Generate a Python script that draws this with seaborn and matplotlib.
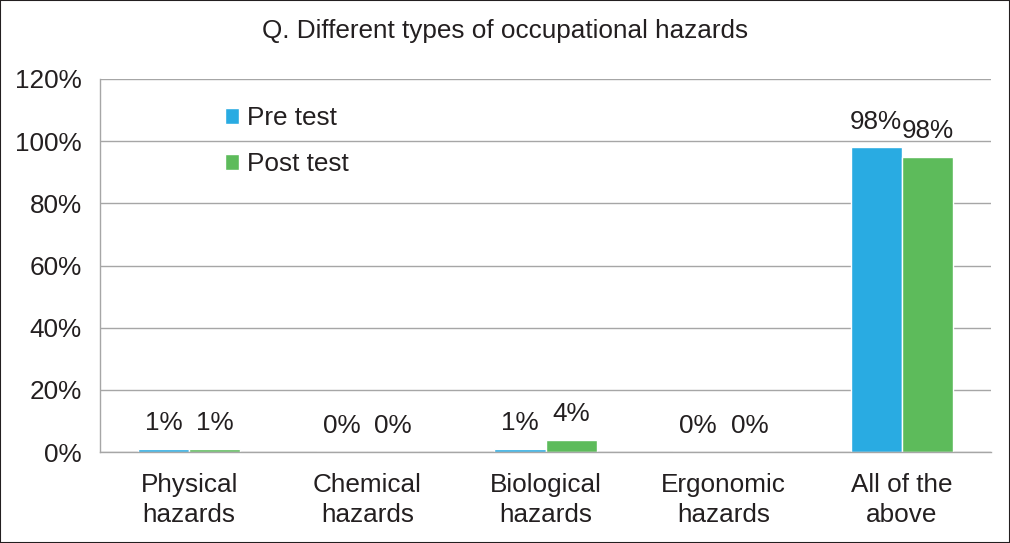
import matplotlib
matplotlib.use("Agg")
import matplotlib.pyplot as plt
import seaborn as sns
import pandas as pd
import numpy as np
from matplotlib.patches import Rectangle

categories = ["Physical\nhazards", "Chemical\nhazards", "Biological\nhazards",
              "Ergonomic\nhazards", "All of the\nabove"]
pre_test = [1, 0, 1, 0, 98]
post_test = [1, 0, 4, 0, 95]
pre_labels = ["1%", "0%", "1%", "0%", "98%"]
post_labels = ["1%", "0%", "4%", "0%", "98%"]
series = ["Pre test", "Post test"]
colors = ["#29ABE2", "#5DBB5B"]

df = pd.DataFrame({
    "category": categories * 2,
    "value": pre_test + post_test,
    "test": [series[0]] * len(categories) + [series[1]] * len(categories),
})

sns.set_style("white")
plt.rcParams["font.family"] = ["Liberation Sans", "DejaVu Sans"]
txt = "#231F20"
grid_c = "#A6A6A6"
fs = 18.8

fig = plt.figure(figsize=(10.1, 5.43), dpi=100)
ax = fig.add_axes([100 / 1010, 1 - 452 / 543, 891 / 1010, 373 / 543])

sns.barplot(data=df, x="category", y="value", hue="test", palette=colors,
            width=0.575, saturation=1, dodge=True, ax=ax, legend=True)

ax.set_ylim(0, 120)
ax.set_xlim(-0.5, len(categories) - 0.5)
ax.set_yticks(np.arange(0, 121, 20))
ax.set_yticklabels([f"{v}%" for v in range(0, 121, 20)], fontsize=fs, color=txt)
ax.set_xticklabels(categories, fontsize=fs, color=txt, linespacing=1.3)
ax.set_xlabel("")
ax.set_ylabel("")
ax.yaxis.grid(True, color=grid_c, linewidth=1)
ax.set_axisbelow(True)
for s in ["top", "right"]:
    ax.spines[s].set_visible(False)
for s in ["left", "bottom"]:
    ax.spines[s].set_color(grid_c)
    ax.spines[s].set_linewidth(1)
ax.tick_params(axis="y", length=7, color=grid_c, width=1, pad=6)
ax.tick_params(axis="x", which="major", length=0, pad=15)
ax.set_xticks(np.arange(0.5, len(categories) - 1, 1), minor=True)
ax.tick_params(axis="x", which="minor", length=6, color=grid_c, width=1)

# data labels
for cont, labs in zip(ax.containers, [pre_labels, post_labels]):
    for bar, lab in zip(cont, labs):
        ax.annotate(lab, (bar.get_x() + bar.get_width() / 2, bar.get_height()),
                    xytext=(0, 18.5), textcoords="offset points",
                    ha="center", va="center", fontsize=fs, color=txt)

handles, labels = ax.get_legend_handles_labels()
ax.legend(handles, labels, loc="upper left", bbox_to_anchor=(225 / 1010, 1 - 106 / 543),
          bbox_transform=fig.transFigure, frameon=False, fontsize=fs,
          handlelength=0.55, handleheight=0.55, handletextpad=0.3,
          labelspacing=0.85, borderpad=0, borderaxespad=0, labelcolor=txt)

fig.text(0.5, 1 - 31 / 543, "Q. Different types of occupational hazards",
         ha="center", va="center", fontsize=fs, color=txt)

fig.patches.append(Rectangle((0, 0), 1, 1, transform=fig.transFigure, fill=False,
                             edgecolor="#231F20", linewidth=1.5, zorder=10))

fig.savefig("out.png", dpi=100)
